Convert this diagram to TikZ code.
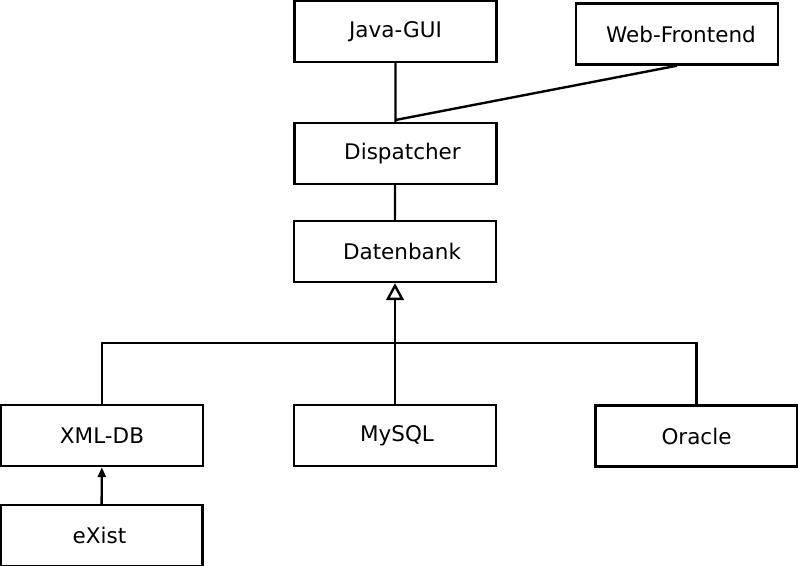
\documentclass[tikz,border=0pt]{standalone}
\usepackage{fontspec}
\setmainfont{DejaVu Sans}
\usepackage{tikz}
\usetikzlibrary{positioning, arrows.meta}
\tikzstyle{box} = [draw, rectangle, line width=1.7pt, minimum width=5.05cm, minimum height=1.525cm, inner sep=0pt, font=\fontsize{15.3pt}{18pt}\selectfont]
\tikzstyle{line} = [line width=1.7pt]
\tikzstyle{inherit} = [line width=1.7pt, -{Triangle[open, length=0.42cm, width=0.44cm, line width=1.7pt]}]
\tikzstyle{arrow} = [line width=1.7pt, -{Triangle[length=0.25cm, width=0.2cm]}]

\begin{document}
\begin{tikzpicture}[x=0.025cm, y=-0.025cm]
        \fill[white] (0,0) rectangle (798,566);
        \useasboundingbox (0,0) rectangle (798,566);
        \node[box] (G) at (395.5,31.5) {Java-GUI};
        \node[box] (W) at (677,34) {\hspace*{0.2cm}Web-Frontend};
        \node[box] (D) at (395.5,153.5) {\hspace*{0.35cm}Dispatcher};
        \node[box] (B) at (395,251.5) {\hspace*{0.35cm}Datenbank};
        \node[box] (X) at (102,435.5) {XML-DB};
        \node[box] (M) at (395,435.5) {\hspace*{0.1cm}MySQL};
        \node[box] (O) at (696.5,436) {Oracle};
        \node[box] (E) at (101.5,535.5) {eXist\hspace*{0.1cm}};
        \coordinate (J) at (395.5,120);
        \coordinate (T) at (395,343);
        \draw[line] (G) -- (D)
        (W.south) -- (J)
        (D.south -| B) -- (B);
        \draw[line] (X.north) |- (O.north |- T) -- (O.north);
        \draw[line] (M.north) -- (T);
        \draw[inherit] (T) -- (B.south);
        \draw[arrow] (E) -- (X);
      \end{tikzpicture}
\end{document}
